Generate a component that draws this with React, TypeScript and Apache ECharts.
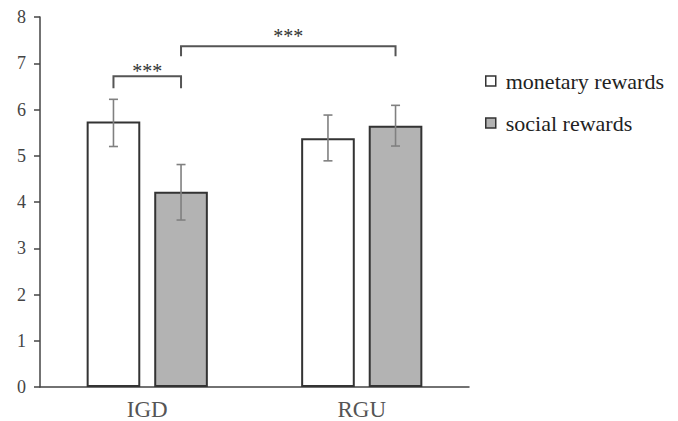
import React, { useEffect, useRef } from "react";
import * as echarts from "echarts";

const categories = ["IGD", "RGU"];
const seriesNames = ["monetary rewards", "social rewards"];
const monetaryValues = [5.74, 5.38];
const socialValues = [4.22, 5.65];
const monetaryErrLow = [5.2, 4.89];
const monetaryErrHigh = [6.22, 5.88];
const socialErrLow = [3.61, 5.21];
const socialErrHigh = [4.81, 6.09];
const yTicks = [0, 1, 2, 3, 4, 5, 6, 7, 8];
// brackets: [fromCategory, fromSeries, toCategory, toSeries, barLevel, endLevel, starLevel]
const brackets = [
  [0, 0, 0, 1, 6.72, 6.46, 6.83],
  [0, 1, 1, 1, 7.37, 7.15, 7.58],
];
const bracketLabel = "***";

const SERIF = "'Liberation Serif', 'Times New Roman', serif";
const BAR_W = 0.25;
const BAR_GAP = 0.26;

function offsetFor(api: any, seriesIdx: number) {
  const band = api.size([1, 0])[0];
  const bw = band * BAR_W;
  const off = (bw + bw * BAR_GAP) / 2;
  return seriesIdx === 0 ? -off : off;
}

export default function App() {
  const ref = useRef<HTMLDivElement>(null);
  useEffect(() => {
    const chart = echarts.init(ref.current!, null, { renderer: "svg" });
    const errData = [
      ...categories.map((_, i) => [i, 0, monetaryErrLow[i], monetaryErrHigh[i]]),
      ...categories.map((_, i) => [i, 1, socialErrLow[i], socialErrHigh[i]]),
    ];
    chart.setOption({
      animation: false,
      textStyle: { fontFamily: SERIF },
      grid: { left: 40, right: 209, top: 17, bottom: 31 },
      legend: {
        orient: "vertical",
        left: 480,
        top: 65,
        itemWidth: 10,
        itemHeight: 10,
        itemGap: 20,
        icon: "rect",
        data: seriesNames,
        textStyle: {
          fontFamily: SERIF,
          fontSize: 22,
          color: "#222",
          padding: [0, 0, 0, 5],
        },
        itemStyle: { borderColor: "#333", borderWidth: 1.5 },
      },
      xAxis: {
        type: "category",
        data: categories,
        axisLine: { lineStyle: { color: "#444", width: 1.5 } },
        axisTick: { show: false },
        axisLabel: {
          fontFamily: SERIF,
          fontSize: 23,
          color: "#555",
          margin: 11,
        },
      },
      yAxis: {
        type: "value",
        min: yTicks[0],
        max: yTicks[yTicks.length - 1],
        interval: 1,
        splitLine: { show: false },
        axisLine: { show: true, lineStyle: { color: "#444", width: 1.5 } },
        axisTick: { show: true, length: 6, lineStyle: { color: "#444", width: 1.5 } },
        axisLabel: {
          fontFamily: SERIF,
          fontSize: 18,
          color: "#444",
          margin: 14,
        },
      },
      series: [
        {
          name: seriesNames[0],
          type: "bar",
          data: monetaryValues,
          barWidth: BAR_W * 100 + "%",
          barGap: BAR_GAP * 100 + "%",
          itemStyle: { color: "#ffffff", borderColor: "#333", borderWidth: 2 },
        },
        {
          name: seriesNames[1],
          type: "bar",
          data: socialValues,
          barWidth: BAR_W * 100 + "%",
          barGap: BAR_GAP * 100 + "%",
          itemStyle: { color: "#b3b3b3", borderColor: "#333", borderWidth: 2 },
        },
        {
          type: "custom",
          data: errData,
          z: 10,
          silent: true,
          renderItem: (params: any, api: any) => {
            const cat = api.value(0);
            const s = api.value(1);
            const lo = api.coord([cat, api.value(2)]);
            const hi = api.coord([cat, api.value(3)]);
            const x = lo[0] + offsetFor(api, s);
            const cap = 4.5;
            const style = { stroke: "#808080", lineWidth: 1.6 };
            return {
              type: "group",
              children: [
                { type: "line", shape: { x1: x, y1: lo[1], x2: x, y2: hi[1] }, style },
                { type: "line", shape: { x1: x - cap, y1: lo[1], x2: x + cap, y2: lo[1] }, style },
                { type: "line", shape: { x1: x - cap, y1: hi[1], x2: x + cap, y2: hi[1] }, style },
              ],
            };
          },
        },
        {
          type: "custom",
          data: brackets,
          z: 10,
          silent: true,
          renderItem: (params: any, api: any) => {
            const c1 = api.value(0);
            const s1 = api.value(1);
            const c2 = api.value(2);
            const s2 = api.value(3);
            const pTop1 = api.coord([c1, api.value(4)]);
            const pTop2 = api.coord([c2, api.value(4)]);
            const yEnd = api.coord([c1, api.value(5)])[1];
            const yStar = api.coord([c1, api.value(6)])[1];
            const x1 = pTop1[0] + offsetFor(api, s1);
            const x2 = pTop2[0] + offsetFor(api, s2);
            const y = pTop1[1];
            return {
              type: "group",
              children: [
                {
                  type: "polyline",
                  shape: { points: [[x1, yEnd], [x1, y], [x2, y], [x2, yEnd]] },
                  style: { stroke: "#555", lineWidth: 2, fill: "none" },
                },
                {
                  type: "text",
                  x: (x1 + x2) / 2,
                  y: yStar,
                  style: {
                    text: bracketLabel,
                    fontFamily: SERIF,
                    fontSize: 20,
                    fill: "#333",
                    align: "center",
                    verticalAlign: "middle",
                  },
                },
              ],
            };
          },
        },
      ],
    });
    return () => chart.dispose();
  }, []);
  return (
    <div
      ref={ref}
      style={{ position: "fixed", left: 0, top: 0, width: 678, height: 421, background: "#fff" }}
    />
  );
}
